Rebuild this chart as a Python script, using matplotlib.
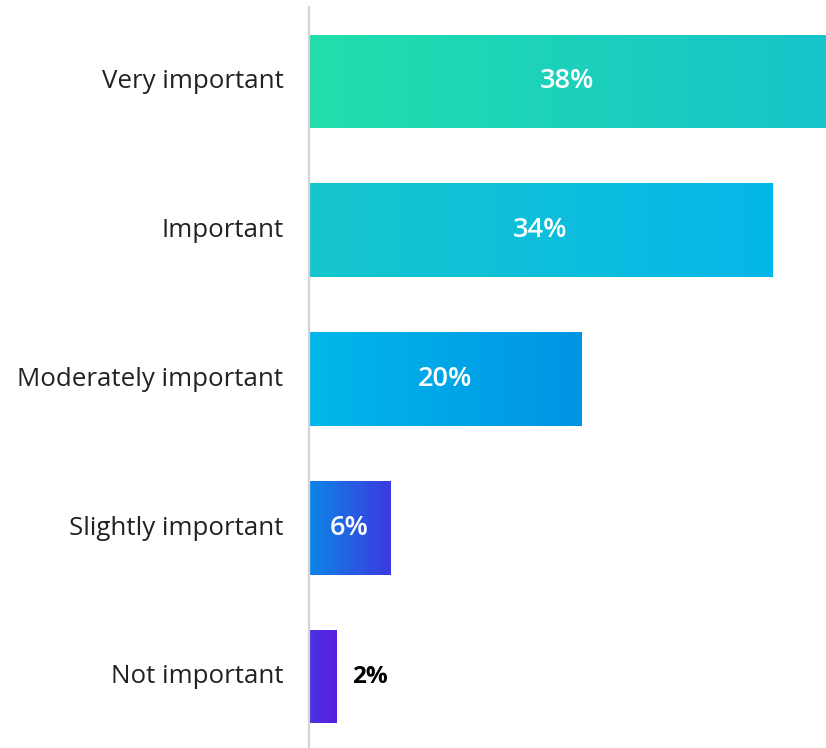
import matplotlib
matplotlib.use("Agg")
import matplotlib.pyplot as plt
import matplotlib.transforms as mtransforms
import numpy as np
from matplotlib.colors import LinearSegmentedColormap

categories = [
    "Very important",
    "Important",
    "Moderately important",
    "Slightly important",
    "Not important",
]
values = [38, 34, 20, 6, 2]

# left/right colour of each bar's horizontal gradient
bar_gradients = [
    ("#22DEAB", "#17C4CB"),
    ("#17C6CC", "#04B7EA"),
    ("#02B8EA", "#0094E4"),
    ("#0C86E6", "#3D3AE0"),
    ("#4A35E0", "#5A1CE0"),
]

plt.rcParams["font.family"] = ["Open Sans", "DejaVu Sans"]

fig = plt.figure(figsize=(8.26, 7.48), dpi=100)
ax = fig.add_axes([308.5 / 826, 0.0, 1 - 308.5 / 826, 741 / 748])

y = np.arange(len(categories))
bars = ax.barh(y, values, height=0.63, color="none", edgecolor="none")

grad = np.linspace(0, 1, 256).reshape(1, -1)
for bar, (c0, c1) in zip(bars, bar_gradients):
    cmap = LinearSegmentedColormap.from_list("g", [c0, c1])
    x0, y0 = bar.get_x(), bar.get_y()
    w, h = bar.get_width(), bar.get_height()
    im = ax.imshow(grad, cmap=cmap, aspect="auto",
                   extent=(x0, x0 + w, y0 + h, y0), interpolation="bilinear",
                   zorder=2)
    im.set_clip_path(bar)

for yi, v in zip(y, values):
    if v >= 5:
        ax.text(v / 2, yi, f"{v}%", ha="center", va="center", color="white",
                fontsize=19.5, fontweight="semibold", zorder=3)
    else:
        ax.annotate(f"{v}%", (v, yi), xytext=(12, 0), textcoords="offset points",
                    ha="left", va="center", color="black",
                    fontsize=17.5, fontweight="bold", zorder=3)

ax.set_xlim(0, 38)
ax.set_ylim(4.48, -0.5)
ax.set_yticks(y)
ax.set_yticklabels(categories, fontsize=18.6, color="#222222")
ax.tick_params(axis="y", length=0, pad=18)
ax.set_xticks([])

# nudge category labels up a little
shift = mtransforms.ScaledTranslation(0, 2 / 72, fig.dpi_scale_trans)
for lbl in ax.get_yticklabels():
    lbl.set_transform(lbl.get_transform() + shift)

for side in ("top", "right", "bottom"):
    ax.spines[side].set_visible(False)
ax.spines["left"].set_color("#d4d4d4")
ax.spines["left"].set_linewidth(1.6)

fig.savefig("out.png", dpi=100)
